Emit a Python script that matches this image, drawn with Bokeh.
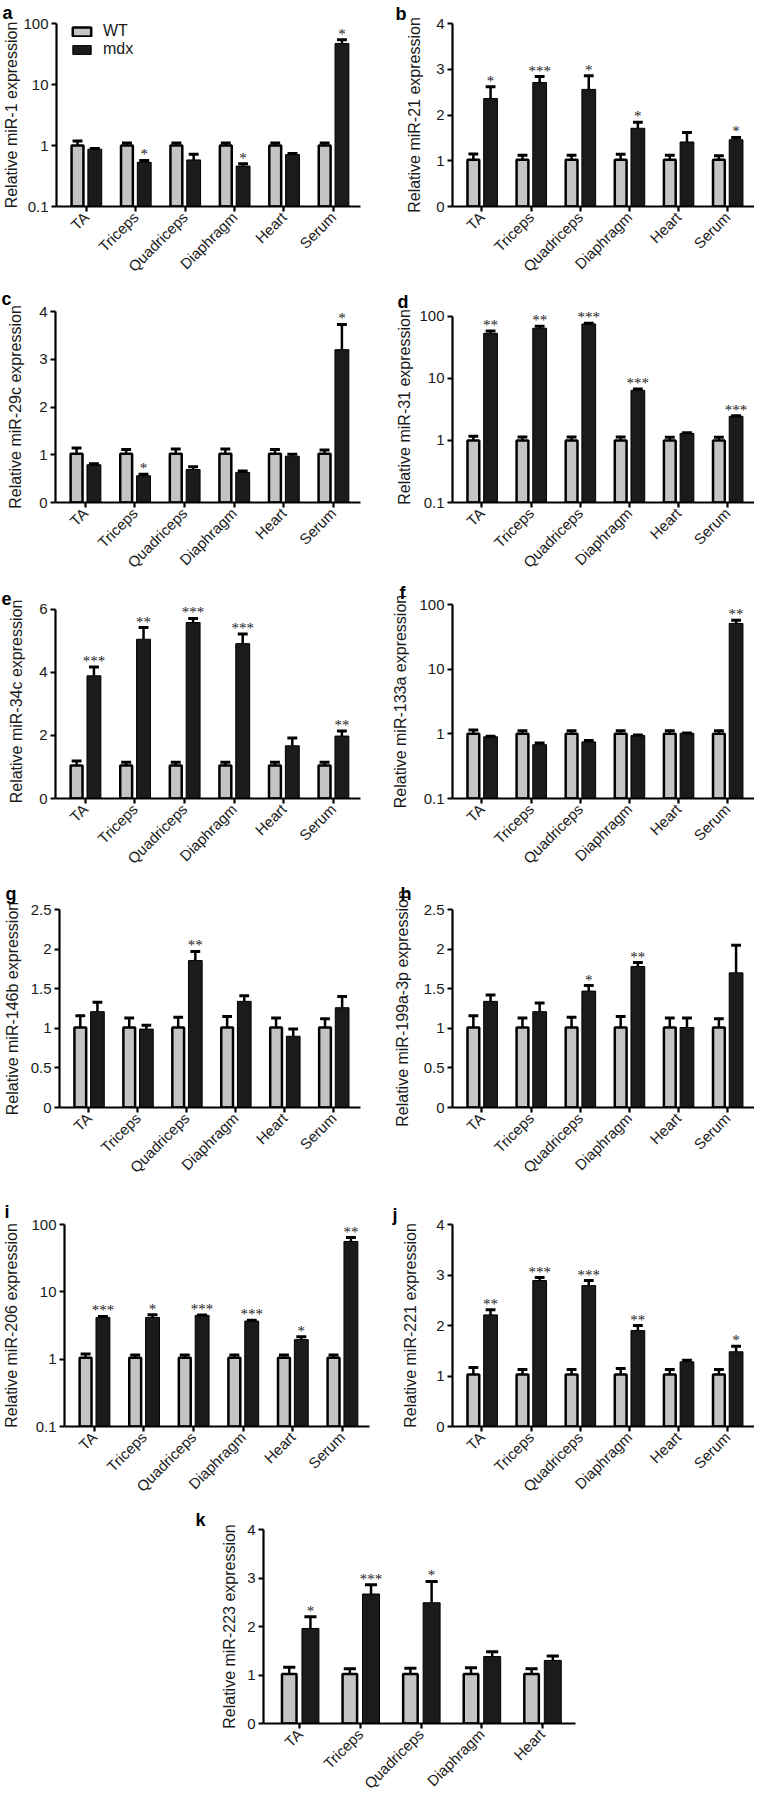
import numpy as np
from bokeh.plotting import figure
from bokeh.models import (Range1d, FixedTicker, CustomJSTickFormatter, Legend,
                          LegendItem, ColumnDataSource, LabelSet)
from bokeh.layouts import column, row
from bokeh.embed import file_html
from bokeh.resources import INLINE

FONT = "Liberation Sans"
WT_FILL = "#c4c4c4"
MDX_FILL = "#1b1b1b"

cats6 = ["TA", "Triceps", "Quadriceps", "Diaphragm", "Heart", "Serum"]
cats5 = ["TA", "Triceps", "Quadriceps", "Diaphragm", "Heart"]

# a: miR-1 (log)
a_wt = [1.0, 1.0, 1.0, 1.0, 1.0, 1.0]
a_wt_err = [0.18, 0.1, 0.1, 0.1, 0.1, 0.1]
a_mdx = [0.87, 0.53, 0.58, 0.46, 0.71, 47]
a_mdx_err = [0.02, 0.04, 0.14, 0.04, 0.03, 7]
a_sig = ["", "*", "", "*", "", "*"]

# b: miR-21
b_wt = [1.02, 1.02, 1.02, 1.02, 1.02, 1.02]
b_wt_err = [0.13, 0.1, 0.1, 0.12, 0.1, 0.09]
b_mdx = [2.36, 2.71, 2.56, 1.71, 1.41, 1.46]
b_mdx_err = [0.26, 0.13, 0.30, 0.13, 0.21, 0.05]
b_sig = ["*", "***", "*", "*", "", "*"]

# c: miR-29c
c_wt = [1.02, 1.02, 1.02, 1.02, 1.02, 1.02]
c_wt_err = [0.12, 0.09, 0.1, 0.1, 0.09, 0.08]
c_mdx = [0.79, 0.56, 0.69, 0.63, 0.97, 3.2]
c_mdx_err = [0.02, 0.03, 0.06, 0.03, 0.04, 0.53]
c_sig = ["", "*", "", "", "", "*"]

# d: miR-31 (log)
d_wt = [1.0, 1.0, 1.0, 1.0, 1.0, 1.0]
d_wt_err = [0.17, 0.13, 0.13, 0.13, 0.12, 0.12]
d_mdx = [53, 64, 75, 6.4, 1.3, 2.45]
d_mdx_err = [5, 5, 2, 0.3, 0.03, 0.05]
d_sig = ["**", "**", "***", "***", "", "***"]

# e: miR-34c
e_wt = [1.05, 1.05, 1.05, 1.05, 1.05, 1.05]
e_wt_err = [0.14, 0.1, 0.1, 0.1, 0.1, 0.1]
e_mdx = [3.89, 5.05, 5.58, 4.91, 1.67, 1.98]
e_mdx_err = [0.28, 0.37, 0.13, 0.31, 0.25, 0.16]
e_sig = ["***", "**", "***", "***", "", "**"]

# f: miR-133a (log)
f_wt = [1.0, 1.0, 1.0, 1.0, 1.0, 1.0]
f_wt_err = [0.15, 0.12, 0.12, 0.12, 0.12, 0.12]
f_mdx = [0.9, 0.68, 0.75, 0.94, 1.02, 51]
f_mdx_err = [0.02, 0.04, 0.04, 0.02, 0.01, 6]
f_sig = ["", "", "", "", "", "**"]

# g: miR-146b
g_wt = [1.01, 1.01, 1.01, 1.01, 1.01, 1.01]
g_wt_err = [0.15, 0.12, 0.13, 0.14, 0.12, 0.11]
g_mdx = [1.21, 0.99, 1.855, 1.34, 0.90, 1.26]
g_mdx_err = [0.12, 0.05, 0.115, 0.07, 0.09, 0.14]
g_sig = ["", "", "**", "", "", ""]

# h: miR-199a-3p
h_wt = [1.01, 1.01, 1.01, 1.01, 1.01, 1.01]
h_wt_err = [0.15, 0.12, 0.13, 0.14, 0.12, 0.11]
h_mdx = [1.34, 1.21, 1.47, 1.78, 1.01, 1.70]
h_mdx_err = [0.08, 0.11, 0.07, 0.05, 0.12, 0.35]
h_sig = ["", "", "*", "**", "", ""]

# i: miR-206 (log)
i_wt = [1.05, 1.05, 1.05, 1.05, 1.05, 1.05]
i_wt_err = [0.14, 0.1, 0.1, 0.1, 0.1, 0.1]
i_mdx = [4.17, 4.17, 4.47, 3.68, 1.95, 56]
i_mdx_err = [0.15, 0.4, 0.05, 0.12, 0.2, 8]
i_sig = ["***", "*", "***", "***", "*", "**"]

# j: miR-221
j_wt = [1.03, 1.03, 1.03, 1.03, 1.03, 1.03]
j_wt_err = [0.14, 0.1, 0.1, 0.12, 0.1, 0.1]
j_mdx = [2.21, 2.89, 2.79, 1.90, 1.28, 1.48]
j_mdx_err = [0.1, 0.06, 0.1, 0.1, 0.03, 0.11]
j_sig = ["**", "***", "***", "**", "", "*"]

# k: miR-223
k_wt = [1.02, 1.02, 1.02, 1.02, 1.02]
k_wt_err = [0.14, 0.11, 0.12, 0.13, 0.11]
k_mdx = [1.96, 2.67, 2.49, 1.38, 1.30]
k_mdx_err = [0.24, 0.19, 0.44, 0.10, 0.09]
k_sig = ["*", "***", "*", "", ""]

log_ticks = [0.1, 1, 10, 100]
ticks4 = [0, 1, 2, 3, 4]
ticks6 = [0, 2, 4, 6]
ticks25 = [0.0, 0.5, 1.0, 1.5, 2.0, 2.5]


def make_panel(letter, ylabel, cats, wt, wt_err, mdx, mdx_err, sig, log, ymax, yticks,
               width, height, bl, br, bt, bb, ldx, lstand, ystand, ext=0, legend=False):
    n = len(cats)
    base = 0.1 if log else 0.0
    fh = height - bt - bb
    span = fh - ext
    if log:
        yend = 10 ** (np.log10(ymax) + ext / span * (np.log10(ymax) - np.log10(base)))
    else:
        yend = ymax + ext / span * (ymax - base)
    kw = dict(y_axis_type="log") if log else {}
    p = figure(width=width, height=height, output_backend="svg", toolbar_location=None,
               x_range=Range1d(-0.6, n - 1 + 0.55), y_range=Range1d(base, yend), **kw)
    p.min_border_left = bl
    p.min_border_right = br
    p.min_border_top = bt
    p.min_border_bottom = bb
    p.outline_line_color = None
    p.xgrid.visible = False
    p.ygrid.visible = False
    p.background_fill_color = "white"
    p.border_fill_color = "white"

    p.title.text = letter
    p.title.align = "left"
    p.title.offset = ldx
    p.title.standoff = lstand
    p.title.vertical_align = "bottom"
    p.title.text_font = FONT
    p.title.text_font_style = "bold"
    p.title.text_font_size = "18px"
    p.title.text_color = "black"

    idx = np.arange(n)
    wt = np.array(wt, float); wt_err = np.array(wt_err, float)
    mdx = np.array(mdx, float); mdx_err = np.array(mdx_err, float)
    x_wt = idx - 0.175
    x_mdx = idx + 0.175

    r_wt = p.vbar(x=x_wt, top=wt, bottom=base, width=0.24, fill_color=WT_FILL,
                  line_color="black", line_width=2.5)
    r_mdx = p.vbar(x=x_mdx, top=mdx, bottom=base, width=0.28, fill_color=MDX_FILL,
                   line_color="black", line_width=1)
    for xx, v, e in ((x_wt, wt, wt_err), (x_mdx, mdx, mdx_err)):
        p.segment(x0=xx, y0=v, x1=xx, y1=v + e, line_color="black", line_width=2.5)
        p.segment(x0=xx - 0.1, y0=v + e, x1=xx + 0.1, y1=v + e, line_color="black",
                  line_width=3)

    has = [k for k, s in enumerate(sig) if s]
    if has:
        src = ColumnDataSource(dict(x=x_mdx[has], y=(mdx + mdx_err)[has],
                                    t=[sig[k] for k in has]))
        ls = LabelSet(x="x", y="y", text="t", source=src, text_align="center",
                      text_baseline="alphabetic", text_font=FONT, text_font_size="15px",
                      text_color="#222222", y_offset=1)
        p.add_layout(ls)

    for ax in (p.xaxis[0], p.yaxis[0]):
        ax.axis_line_width = 2.2
        ax.axis_line_color = "black"
        ax.major_tick_line_width = 2.2
        ax.major_tick_line_color = "black"
        ax.major_tick_out = 5
        ax.major_tick_in = 0
        ax.minor_tick_out = 0
        ax.minor_tick_in = 0
        ax.major_label_text_font = FONT
        ax.major_label_text_color = "#1a1a1a"
        ax.axis_label_text_font = FONT
        ax.axis_label_text_font_style = "normal"
        ax.axis_label_text_color = "#1a1a1a"

    p.xaxis.ticker = FixedTicker(ticks=list(range(n)))
    p.xaxis.major_label_overrides = {k: c for k, c in enumerate(cats)}
    p.xaxis.major_label_orientation = np.pi / 4
    p.xaxis.major_label_text_font_size = "15px"
    p.xaxis.major_label_standoff = 3

    p.yaxis.ticker = FixedTicker(ticks=yticks, minor_ticks=[])
    p.yaxis.bounds = (base, ymax)
    if log:
        p.yaxis.formatter = CustomJSTickFormatter(code="return tick.toString()")
    p.yaxis.major_label_text_font_size = "15px"
    p.yaxis.major_label_standoff = 3
    p.yaxis.axis_label = ylabel
    p.yaxis.axis_label_text_font_size = "16px"
    p.yaxis.axis_label_standoff = ystand

    if legend:
        lg = Legend(items=[LegendItem(label="WT", renderers=[r_wt]),
                           LegendItem(label="mdx", renderers=[r_mdx])],
                    location=(14, fh - 40), padding=0, spacing=0, margin=0,
                    glyph_width=23, glyph_height=11, label_standoff=10,
                    label_text_font=FONT, label_text_font_size="16px",
                    label_text_color="#1a1a1a",
                    background_fill_alpha=0, border_line_color=None)
        p.add_layout(lg)
    return p


LW, RW = 377, 377
H = [283, 296, 296, 321, 311, 293]

pa = make_panel("a", "Relative miR-1 expression", cats6, a_wt, a_wt_err, a_mdx, a_mdx_err, a_sig,
                True, 100, log_ticks, LW, H[0], 55, 17, 23, 72, -54, 1, 0, legend=True)
pb = make_panel("b", "Relative miR-21 expression", cats6, b_wt, b_wt_err, b_mdx, b_mdx_err, b_sig,
                False, 4, ticks4, RW, H[0], 75, 0, 23, 72, -57, 0, 10)
pc = make_panel("c", "Relative miR-29c expression", cats6, c_wt, c_wt_err, c_mdx, c_mdx_err, c_sig,
                False, 4, ticks4, LW, H[1], 55, 17, 28, 71, -54, 6, 12)
pd_ = make_panel("d", "Relative miR-31 expression", cats6, d_wt, d_wt_err, d_mdx, d_mdx_err, d_sig,
                 True, 100, log_ticks, RW, H[1], 75, 0, 23, 71, -55, 0, 3, ext=5)
pe = make_panel("e", "Relative miR-34c expression", cats6, e_wt, e_wt_err, e_mdx, e_mdx_err, e_sig,
                False, 6, ticks6, LW, H[2], 55, 17, 22, 71, -54, 0, 11, ext=5)
pf = make_panel("f", "Relative miR-133a expression", cats6, f_wt, f_wt_err, f_mdx, f_mdx_err, f_sig,
                True, 100, log_ticks, RW, H[2], 75, 0, 25, 71, -53, 3, 7)
pg = make_panel("g", "Relative miR-146b expression", cats6, g_wt, g_wt_err, g_mdx, g_mdx_err, g_sig,
                False, 2.5, ticks25, LW, H[3], 55, 17, 34, 89, -54, 12, 7)
ph = make_panel("h", "Relative miR-199a-3p expression", cats6, h_wt, h_wt_err, h_mdx, h_mdx_err, h_sig,
                False, 2.5, ticks25, RW, H[3], 75, 0, 34, 89, -52, 12, 10)
pi_ = make_panel("i", "Relative miR-206 expression", cats6, i_wt, i_wt_err, i_mdx, i_mdx_err, i_sig,
                 True, 100, log_ticks, LW, H[4], 62, 8, 28, 81, -60, 6, 8)
pj = make_panel("j", "Relative miR-221 expression", cats6, j_wt, j_wt_err, j_mdx, j_mdx_err, j_sig,
                False, 4, ticks4, RW, H[4], 75, 0, 28, 81, -60, 0, 14)
pk = make_panel("k", "Relative miR-223 expression", cats5, k_wt, k_wt_err, k_mdx, k_mdx_err, k_sig,
                False, 4, ticks4, LW + RW, H[5], 263, 179, 22, 71, -68, 0, 6)

layout = column(row(pa, pb), row(pc, pd_), row(pe, pf), row(pg, ph), row(pi_, pj), row(pk))

open("out.html", "w").write(file_html(layout, INLINE))
